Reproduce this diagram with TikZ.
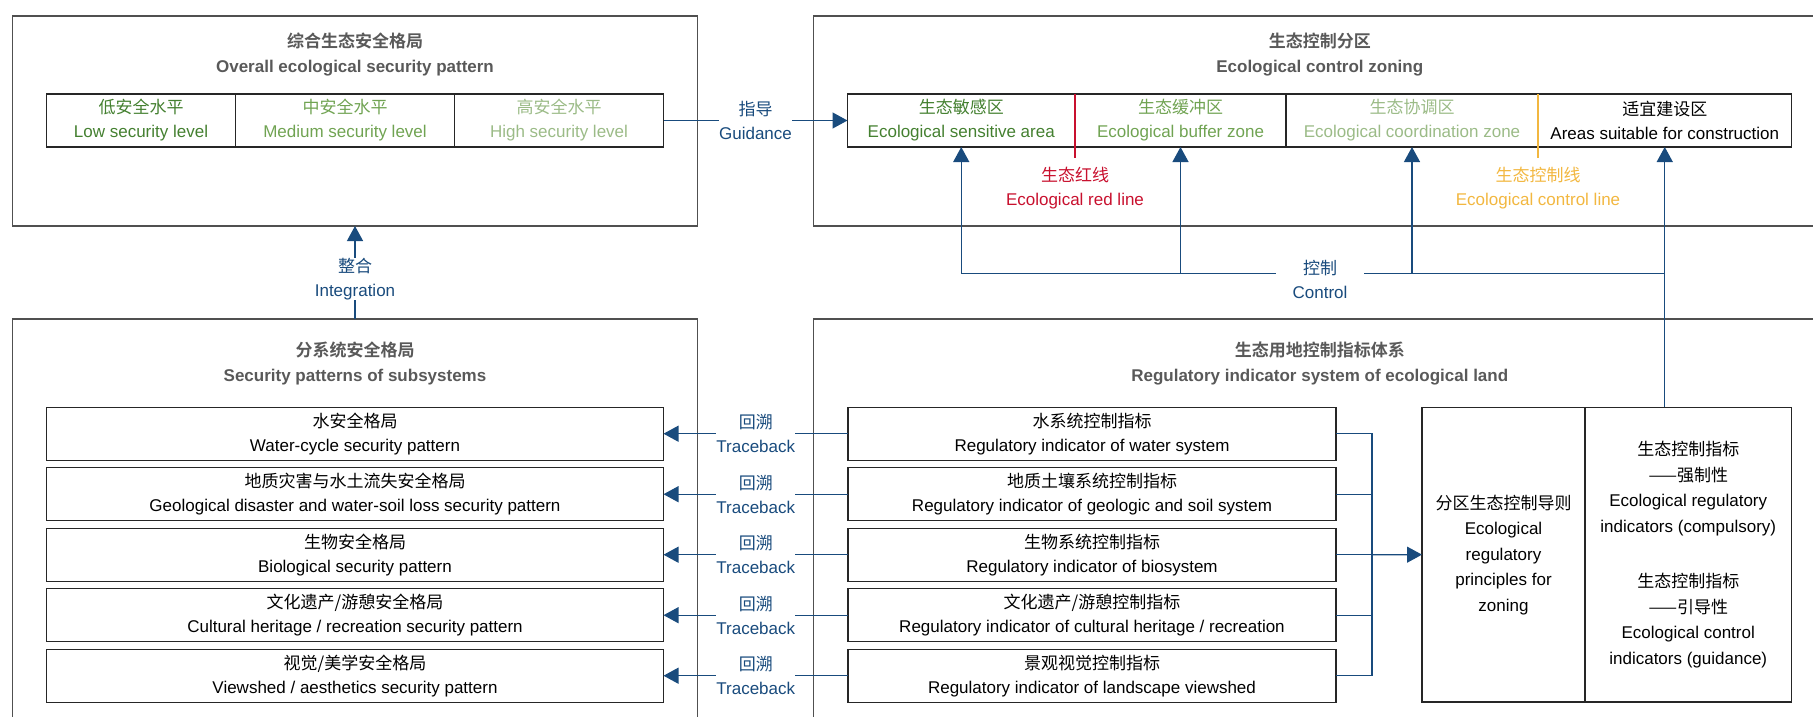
\documentclass[tikz,border=0pt]{standalone}
\usepackage{fontspec}
\setmainfont{Liberation Sans}
\newfontfamily\cjk[BoldFont={Noto Sans CJK SC Bold}]{Noto Sans CJK SC}
\newcommand{\zh}[1]{{\cjk #1}}
\newcommand{\txtfont}{\fontsize{17}{24}\selectfont}
\usetikzlibrary{arrows.meta,positioning,calc}
\definecolor{titlegray}{RGB}{89,89,89}
\definecolor{framegray}{RGB}{80,80,80}
\definecolor{lowgreen}{RGB}{68,128,48}
\definecolor{midgreen}{RGB}{112,163,82}
\definecolor{highgreen}{RGB}{155,187,135}
\definecolor{redc}{RGB}{200,16,46}
\definecolor{orangec}{RGB}{242,183,64}
\definecolor{linkblue}{RGB}{25,75,125}
\tikzset{
    frame/.style={draw=framegray, line width=1.4pt, inner sep=0pt, outer sep=0pt},
    title/.style={text=titlegray, align=center, font=\bfseries\fontsize{17}{25}\selectfont},
    cell/.style={draw=black!85, line width=1.3pt, inner sep=0pt, outer sep=0pt, minimum height=53pt, align=center, font=\txtfont},
    lbl/.style={fill=white, inner sep=0pt, align=center, text=linkblue, font=\txtfont},
    line/.style={draw=linkblue, line width=1.3pt},
    link/.style={line, -{Triangle[length=15pt,width=16pt]}}
}

\begin{document}
\begin{tikzpicture}[x=1pt, y=-1pt]
    \useasboundingbox (0,0) rectangle (1813,716);

    % Outer frames
    \node [frame, minimum width=685pt, minimum height=210pt] (overall) at (355,121) {};
    \node [frame, minimum width=1012.5pt, minimum height=210pt] (zoning) at (1319.75,121) {};
    \node [frame, minimum width=685pt, minimum height=421pt] (subsys) at (355,529.5) {};
    \node [frame, minimum width=1012.5pt, minimum height=421pt] (regsys) at (1319.75,529.5) {};

    % Titles
    \node [title] (overalltitle) at (355,54.5) {\zh{综合生态安全格局}\\Overall ecological security pattern};
    \node [title] (zoningtitle) at (1319.75,54.5) {\zh{生态控制分区}\\Ecological control zoning};
    \node [title] (subsystitle) at (355,363) {\zh{分系统安全格局}\\Security patterns of subsystems};
    \node [title] (regsystitle) at (1319.75,363) {\zh{生态用地控制指标体系}\\Regulatory indicator system of ecological land};

    % Security levels
    \node [cell, minimum width=189pt, text=lowgreen] (low) at (141,120.5) {\zh{低安全水平}\\Low security level};
    \node [cell, minimum width=219pt, text=midgreen] (mid) at (345,120.5) {\zh{中安全水平}\\Medium security level};
    \node [cell, minimum width=209pt, text=highgreen] (high) at (559,120.5) {\zh{高安全水平}\\High security level};

    % Control zones
    \node [cell, minimum width=227.5pt, text=lowgreen] (sens) at (961.25,120.5) {\zh{生态敏感区}\\Ecological sensitive area};
    \node [cell, minimum width=211pt, text=midgreen] (buf) at (1180.5,120.5) {\zh{生态缓冲区}\\Ecological buffer zone};
    \node [cell, minimum width=252pt, text=highgreen] (coord) at (1412,120.5) {\zh{生态协调区}\\Ecological coordination zone};
    \node [cell, minimum width=253.5pt] (build) at (1664.75,120.5) {\zh{适宜建设区}\\Areas suitable for construction};

    % Red line and control line
    \draw [redc, line width=1.5pt] (sens.north east) -- ++(0,64);
    \draw [orangec, line width=1.5pt] (coord.north east) -- ++(0,64);
    \node [text=redc, align=center, font=\txtfont] (redlbl) at (1075,188) {\zh{生态红线}\\Ecological red line};
    \node [text=orangec, align=center, font=\txtfont] (ctllbl) at (1538,188) {\zh{生态控制线}\\Ecological control line};

    % Subsystem patterns
    \node [cell, minimum width=617pt] (water) at (355,433.7) {\zh{水安全格局}\\Water-cycle security pattern};
    \node [cell, minimum width=617pt] (geo) at (355,494.2) {\zh{地质灾害与水土流失安全格局}\\Geological disaster and water-soil loss security pattern};
    \node [cell, minimum width=617pt] (bio) at (355,554.7) {\zh{生物安全格局}\\Biological security pattern};
    \node [cell, minimum width=617pt] (cult) at (355,615.2) {\zh{文化遗产/游憩安全格局}\\Cultural heritage / recreation security pattern};
    \node [cell, minimum width=617pt] (view) at (355,675.7) {\zh{视觉/美学安全格局}\\Viewshed / aesthetics security pattern};

    % Regulatory indicators
    \node [cell, minimum width=488pt] (iwater) at (1092,433.7) {\zh{水系统控制指标}\\Regulatory indicator of water system};
    \node [cell, minimum width=488pt] (igeo) at (1092,494.2) {\zh{地质土壤系统控制指标}\\Regulatory indicator of geologic and soil system};
    \node [cell, minimum width=488pt] (ibio) at (1092,554.7) {\zh{生物系统控制指标}\\Regulatory indicator of biosystem};
    \node [cell, minimum width=488pt] (icult) at (1092,615.2) {\zh{文化遗产/游憩控制指标}\\Regulatory indicator of cultural heritage / recreation};
    \node [cell, minimum width=488pt] (iview) at (1092,675.7) {\zh{景观视觉控制指标}\\Regulatory indicator of landscape viewshed};

    % Principles and indicators
    \node [cell, minimum width=163pt, minimum height=294.7pt, font=\fontsize{17}{25.5}\selectfont] (principle) at (1503.5,554.65) {\zh{分区生态控制导则}\\Ecological\\regulatory\\principles for\\zoning};
    \node [cell, minimum width=206.5pt, minimum height=294.7pt, font=\fontsize{17}{25.5}\selectfont] (regind) at (1688.25,554.65) {\zh{生态控制指标}\\\zh{——强制性}\\Ecological regulatory\\indicators (compulsory)\\[30pt]\zh{生态控制指标}\\\zh{——引导性}\\Ecological control\\indicators (guidance)};

    % Guidance and integration
    \draw [link] (high.east) -- node [lbl] {\zh{指导}\\Guidance} (sens.west);
    \draw [link] (subsys.north) -- node [lbl, pos=0.43] {\zh{整合}\\Integration} (overall.south);

    % Traceback
    \draw [link] (iwater.west) -- node [lbl] {\zh{回溯}\\Traceback} (water.east);
    \draw [link] (igeo.west) -- node [lbl] {\zh{回溯}\\Traceback} (geo.east);
    \draw [link] (ibio.west) -- node [lbl] {\zh{回溯}\\Traceback} (bio.east);
    \draw [link] (icult.west) -- node [lbl] {\zh{回溯}\\Traceback} (cult.east);
    \draw [link] (iview.west) -- node [lbl] {\zh{回溯}\\Traceback} (view.east);

    % Collect indicators
    \coordinate (join) at (1372,554.7);
    \draw [line] (iwater.east) -| (join);
    \draw [line] (igeo.east) -| (join);
    \draw [line] (icult.east) -| (join);
    \draw [line] (iview.east) -| (join);
    \draw [line] (ibio.east) -- (join);
    \draw [link] (join) -- (principle.west);

    % Control
    \coordinate (ctl) at (1664.75,273.3);
    \draw [link] (regind.north -| build.south) -- (build.south);
    \draw [line] (ctl) -- node [lbl, pos=0.49, yshift=-6pt, inner xsep=17pt] {\zh{控制}\\Control} (ctl -| sens.south);
    \draw [link] (ctl -| sens.south) -- (sens.south);
    \draw [link] (ctl -| buf.south) -- (buf.south);
    \draw [link] (ctl -| coord.south) -- (coord.south);
\end{tikzpicture}
\end{document}
